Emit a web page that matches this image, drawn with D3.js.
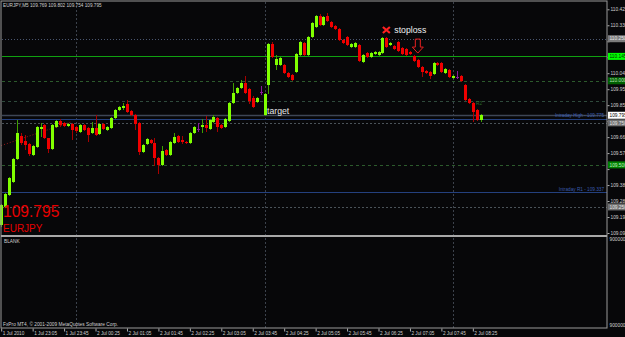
<!DOCTYPE html>
<html>
<head>
<meta charset="utf-8">
<script src="https://cdnjs.cloudflare.com/ajax/libs/d3/7.8.5/d3.min.js"></script>
<style>
  body { margin: 0; background: #070709; }
  svg { display: block; }
  text { font-family: "Liberation Sans", Arial, sans-serif; }
</style>
</head>
<body>
<svg id="chart" width="625" height="337"></svg>
<script>
// EURJPY M5 bars, 1 Jul 2010 22:25 -> 2 Jul 08:35
var opens = [
  109.143,109.250,109.321,109.398,109.535,109.672,109.642,109.624,109.559,109.606,
  109.713,109.737,109.660,109.594,109.725,109.761,109.749,109.731,109.743,109.725,
  109.695,109.737,109.719,109.690,109.719,109.684,109.743,109.707,109.719,109.779,
  109.826,109.838,109.862,109.820,109.797,109.749,109.577,109.624,109.648,109.630,
  109.541,109.499,109.589,109.559,109.630,109.672,109.648,109.636,109.630,109.690,
  109.713,109.725,109.737,109.713,109.755,109.779,109.737,109.725,109.761,109.868,
  109.927,109.957,109.987,109.951,109.898,109.874,109.933,109.797,109.975,110.219,
  110.094,110.094,110.094,110.046,110.034,110.052,110.153,110.225,110.153,110.260,
  110.320,110.385,110.332,110.385,110.350,110.326,110.308,110.243,110.260,110.201,
  110.201,110.213,110.112,110.165,110.141,110.159,110.153,110.165,110.254,110.213,
  110.207,110.231,110.195,110.189,110.171,110.147,110.124,110.082,110.058,110.052,
  110.040,110.106,110.106,110.046,110.064,110.016,110.022,110.028,109.975,109.892,
  109.868,109.826,109.769
];
var highs = [
  109.268,109.335,109.428,109.540,109.767,109.692,109.678,109.630,109.618,109.731,
  109.749,109.743,109.662,109.743,109.767,109.773,109.755,109.749,109.749,109.731,
  109.743,109.743,109.725,109.755,109.797,109.749,109.749,109.731,109.785,109.832,
  109.850,109.868,109.886,109.826,109.803,109.755,109.624,109.660,109.654,109.660,
  109.547,109.612,109.595,109.642,109.690,109.678,109.672,109.642,109.696,109.731,
  109.749,109.773,109.791,109.773,109.797,109.785,109.743,109.779,109.874,109.987,
  109.963,110.005,110.028,109.957,109.910,109.904,109.969,109.927,110.225,110.231,
  110.153,110.142,110.100,110.052,110.040,110.165,110.237,110.231,110.266,110.350,
  110.391,110.397,110.385,110.403,110.356,110.332,110.314,110.249,110.266,110.225,
  110.231,110.219,110.159,110.171,110.171,110.177,110.177,110.260,110.260,110.231,
  110.213,110.237,110.201,110.195,110.177,110.153,110.130,110.088,110.064,110.058,
  110.112,110.112,110.112,110.076,110.070,110.034,110.058,110.034,109.981,109.898,
  109.874,109.832,109.802
];
var lows = [
  109.130,109.245,109.316,109.392,109.530,109.620,109.589,109.555,109.553,109.600,
  109.666,109.654,109.571,109.588,109.719,109.725,109.725,109.725,109.648,109.690,
  109.690,109.700,109.636,109.684,109.672,109.678,109.707,109.700,109.713,109.773,
  109.820,109.826,109.808,109.791,109.707,109.559,109.571,109.618,109.624,109.493,
  109.446,109.493,109.553,109.553,109.624,109.630,109.624,109.624,109.624,109.684,
  109.695,109.690,109.695,109.707,109.749,109.695,109.713,109.719,109.755,109.862,
  109.921,109.951,109.921,109.862,109.838,109.868,109.916,109.791,109.921,110.135,
  110.064,110.088,110.040,110.016,109.999,110.046,110.147,110.147,110.147,110.254,
  110.314,110.326,110.326,110.349,110.314,110.302,110.237,110.219,110.207,110.195,
  110.195,110.112,110.106,110.135,110.135,110.153,110.147,110.159,110.195,110.207,
  110.183,110.171,110.153,110.147,110.153,110.112,110.076,110.022,110.040,110.010,
  110.034,110.088,110.046,110.040,110.016,110.010,110.010,109.993,109.880,109.862,
  109.755,109.761,109.754
];
var closes = [
  109.262,109.327,109.422,109.535,109.690,109.630,109.618,109.565,109.612,109.725,
  109.725,109.660,109.594,109.737,109.761,109.737,109.731,109.743,109.707,109.701,
  109.737,109.707,109.678,109.719,109.678,109.743,109.713,109.725,109.779,109.826,
  109.844,109.850,109.814,109.797,109.743,109.577,109.618,109.654,109.630,109.541,
  109.499,109.583,109.559,109.636,109.666,109.636,109.636,109.630,109.690,109.725,
  109.713,109.737,109.719,109.767,109.785,109.725,109.719,109.773,109.868,109.927,
  109.957,109.987,109.927,109.880,109.844,109.898,109.933,109.921,110.219,110.141,
  110.130,110.136,110.046,110.022,110.005,110.159,110.231,110.153,110.260,110.344,
  110.385,110.332,110.379,110.355,110.320,110.308,110.243,110.225,110.213,110.219,
  110.225,110.118,110.153,110.141,110.165,110.171,110.171,110.254,110.201,110.225,
  110.189,110.177,110.159,110.153,110.159,110.118,110.082,110.052,110.046,110.028,
  110.106,110.094,110.052,110.070,110.022,110.028,110.022,109.999,109.886,109.868,
  109.814,109.767,109.795
];

var timeLabels = ["1 Jul 2010","1 Jul 23:05","1 Jul 23:45","2 Jul 00:25","2 Jul 01:05","2 Jul 01:45",
  "2 Jul 02:25","2 Jul 03:05","2 Jul 03:45","2 Jul 04:25","2 Jul 05:05","2 Jul 05:45",
  "2 Jul 06:25","2 Jul 07:05","2 Jul 07:45","2 Jul 08:25"];
var priceTicks = [110.425,110.330,110.235,110.140,110.045,109.950,109.855,109.760,
  109.665,109.570,109.475,109.380,109.285,109.190,109.095];

// horizontal line objects
var levelPrices = [110.250, 110.145, 110.000, 109.880, 109.750, 109.500, 109.250];
var levelLabels = ["110.250","110.145","110.000","","109.750","109.500","109.250"];
var intradayNames = ["Intraday High", "Intraday R1"];
var intradayPrices = [109.775, 109.337];
var lastBid = 109.795;
var symbol = "EURJPY", period = "M5";

// styles for the level lines (same order as levelPrices)
var levelStroke = ['#4a5670','#10a010','#2c5a2c','#2f4a3c','#4a5258','#2c5a2c','#4a5258'];
var levelDash   = ['1,2',    null,     '3,3',    '3,3',    '2,2',    '3,3',    '2,2'];
var boxFill     = ['#7c7c7c','#00ff00','#006000',null,     '#707070','#008000','#707070'];
var boxText     = ['#e6e6e6','#003000','#b8e0b8',null,     '#e6e6e6','#c0f0c0','#e6e6e6'];

var W = 625, H = 337, axisX = 607, mainBottom = 235, subBottom = 328;
var startMin = 22 * 60 + 25;   // first bar 22:25

var svg = d3.select('#chart');
svg.append('rect').attr('width', W).attr('height', H).attr('fill', '#070709');

var x = d3.scaleLinear().domain([0, 122]).range([1.2, 480.7]);
var y = d3.scaleLinear().domain([109.095, 110.425]).range([233, 9.3]);

var bars = d3.range(opens.length).map(function (i) {
  return { i: i, o: opens[i], h: highs[i], l: lows[i], c: closes[i] };
});

// vertical grid every 4 hours
var gridIdx = bars.filter(function (d) { return (startMin + d.i * 5) % 240 === 0; });
svg.append('g').selectAll('line').data(gridIdx).join('line')
  .attr('x1', function (d) { return Math.round(x(d.i)) + 0.5; })
  .attr('x2', function (d) { return Math.round(x(d.i)) + 0.5; })
  .attr('y1', 2).attr('y2', subBottom)
  .attr('stroke', '#3c424c').attr('stroke-dasharray', '2,2');

// level lines
svg.append('g').selectAll('line').data(levelPrices).join('line')
  .attr('x1', 2).attr('x2', axisX)
  .attr('y1', function (d) { return Math.round(y(d)) + 0.5; })
  .attr('y2', function (d) { return Math.round(y(d)) + 0.5; })
  .attr('stroke', function (d, i) { return levelStroke[i]; })
  .attr('stroke-dasharray', function (d, i) { return levelDash[i]; });

// bid line + intraday levels
svg.append('line').attr('x1', 2).attr('x2', axisX)
  .attr('y1', Math.round(y(lastBid)) + 0.5).attr('y2', Math.round(y(lastBid)) + 0.5)
  .attr('stroke', '#3e4656').attr('stroke-width', 1.5);
svg.append('g').selectAll('line').data(intradayPrices).join('line')
  .attr('x1', 2).attr('x2', axisX)
  .attr('y1', function (d) { return Math.round(y(d)) + 0.5; })
  .attr('y2', function (d) { return Math.round(y(d)) + 0.5; })
  .attr('stroke', '#24407e');
svg.append('g').selectAll('text').data(intradayPrices).join('text')
  .attr('x', 604).attr('y', function (d) { return y(d) - 1.5; })
  .attr('text-anchor', 'end').attr('font-size', 4.7).attr('fill', '#3a5cae')
  .text(function (d, i) { return intradayNames[i] + ' - ' + d3.format('.3f')(d); });

// trendline (dotted dark red)
svg.append('line')
  .attr('x1', x(0)).attr('y1', y(109.615))
  .attr('x2', x(18)).attr('y2', y(109.757))
  .attr('stroke', '#9a1818').attr('stroke-dasharray', '1,2');

// candles
var cg = svg.append('g').attr('shape-rendering', 'crispEdges');
cg.selectAll('.wick').data(bars).join('line').attr('class', 'wick')
  .attr('x1', function (d) { return Math.round(x(d.i)) + 0.5; })
  .attr('x2', function (d) { return Math.round(x(d.i)) + 0.5; })
  .attr('y1', function (d) { return y(d.h); })
  .attr('y2', function (d) { return y(d.l); })
  .attr('stroke', function (d) {
    if (d.o === d.c) return '#8a1a9a';
    return d.c > d.o ? '#3e9e00' : '#a80000';
  });
cg.selectAll('.body').data(bars).join('rect').attr('class', 'body')
  .attr('x', function (d) { return Math.round(x(d.i)) - 1; })
  .attr('width', 3)
  .attr('y', function (d) { return y(Math.max(d.o, d.c)); })
  .attr('height', function (d) { return Math.max(1, Math.abs(y(d.o) - y(d.c))); })
  .attr('fill', function (d) {
    if (d.o === d.c) return '#8a1a9a';
    return d.c > d.o ? '#80ff00' : '#f00000';
  });

// annotations
var sx = x(98), sy = y(110.302);
svg.append('path')
  .attr('d', 'M' + (sx - 3.5) + ',' + (sy - 3) + 'L' + (sx + 3.5) + ',' + (sy + 3) +
    'M' + (sx + 3.5) + ',' + (sy - 3) + 'L' + (sx - 3.5) + ',' + (sy + 3))
  .attr('stroke', '#ff2020').attr('stroke-width', 2.2);
svg.append('text').attr('x', sx + 8).attr('y', sy + 3).attr('font-size', 8.7)
  .attr('fill', '#f0f0f0').text('stoploss');

var ax = x(106), ay = y(110.248);
svg.append('path')
  .attr('d', 'M' + (ax - 2.5) + ',' + ay + 'H' + (ax + 2.5) + 'V' + (ay + 8) + 'H' + (ax + 5.5) +
    'L' + ax + ',' + (ay + 14) + 'L' + (ax - 5.5) + ',' + (ay + 8) + 'H' + (ax - 2.5) + 'Z')
  .attr('fill', 'none').attr('stroke', '#e82020').attr('stroke-width', 1);

svg.append('text').attr('x', x(67) + 2.5).attr('y', y(109.80) - 0.5).attr('font-size', 8.7)
  .attr('fill', '#e8e8e8').text('target');
svg.append('text').attr('x', 476).attr('y', y(109.880) + 4).attr('font-size', 4.7)
  .attr('fill', '#2a6a2a').text('R2');

svg.append('text').attr('x', 3).attr('y', 217).attr('font-size', 15.6)
  .attr('fill', '#e80000').text(d3.format('.3f')(lastBid));
svg.append('text').attr('x', 3).attr('y', 232).attr('font-size', 10)
  .attr('fill', '#e80000').text(symbol);

// header
var last = bars[bars.length - 1];
svg.append('text').attr('x', 3).attr('y', 7).attr('font-size', 4.7).attr('fill', '#d0d0d0')
  .text(symbol + ',' + period + ' ' + [last.o, last.h, last.l, last.c].map(d3.format('.3f')).join(' '));

// window frames
svg.append('rect').attr('x', 1).attr('y', 1).attr('width', axisX - 1).attr('height', subBottom - 1)
  .attr('fill', 'none').attr('stroke', '#9a9a9a').attr('stroke-width', 1);
svg.append('rect').attr('x', 1).attr('y', mainBottom).attr('width', axisX - 1).attr('height', 2)
  .attr('fill', '#a8a8a8');

svg.append('text').attr('x', 4).attr('y', 243).attr('font-size', 4.8).attr('fill', '#d0d0d0').text('BLANK');
svg.append('text').attr('x', 3).attr('y', 326).attr('font-size', 4.8).attr('fill', '#d0d0d0')
  .text('FxPro MT4, \u00a9 2001-2009 MetaQuotes Software Corp.');

// price axis (tick labels hidden where a line label box sits on top of them)
var boxPrices = levelPrices.filter(function (p, i) { return boxFill[i]; }).concat([lastBid]);
var shownTicks = priceTicks.filter(function (t) {
  return boxPrices.every(function (p) { return Math.abs(y(t) - y(p)) > 5; });
});
var yAxis = d3.axisRight(y).tickValues(priceTicks).tickSize(2).tickPadding(1)
  .tickFormat(function (t) { return shownTicks.indexOf(t) >= 0 ? d3.format('.3f')(t) : ''; });
var yg = svg.append('g').attr('transform', 'translate(' + (axisX + 0.5) + ',0)').call(yAxis);
yg.select('.domain').remove();
yg.selectAll('line').attr('stroke', '#b0b0b0');
yg.selectAll('text').attr('font-size', 4.8).attr('fill', '#d0d0d0').attr('font-family', '"Liberation Sans", Arial');

// level label boxes on the axis
var boxes = levelPrices.map(function (p, i) { return { p: p, i: i }; })
  .filter(function (d) { return boxFill[d.i]; });
var bg = svg.append('g');
bg.selectAll('rect').data(boxes).join('rect')
  .attr('x', axisX + 1).attr('y', function (d) { return y(d.p) - 3.5; })
  .attr('width', 20).attr('height', 7).attr('fill', function (d) { return boxFill[d.i]; });
bg.selectAll('text').data(boxes).join('text')
  .attr('x', axisX + 2.5).attr('y', function (d) { return y(d.p) + 1.7; })
  .attr('font-size', 4.8).attr('fill', function (d) { return boxText[d.i]; })
  .text(function (d) { return levelLabels[d.i]; });
svg.append('rect').attr('x', axisX + 1).attr('y', y(lastBid) - 3.5).attr('width', 20).attr('height', 7)
  .attr('fill', '#ffffff');
svg.append('text').attr('x', axisX + 2.5).attr('y', y(lastBid) + 1.7).attr('font-size', 4.8)
  .attr('fill', '#000').text(d3.format('.3f')(lastBid));

// indicator window scale labels
svg.append('text').attr('x', axisX + 2.5).attr('y', 241).attr('font-size', 4.8).attr('fill', '#d0d0d0').text('900000');
svg.append('text').attr('x', axisX + 2.5).attr('y', 327).attr('font-size', 4.8).attr('fill', '#d0d0d0').text('900000');

// time axis
var tickIdx = timeLabels.map(function (t, k) { return k * 8; });
var xAxis = d3.axisBottom(x).tickValues(tickIdx).tickSize(3).tickPadding(0)
  .tickFormat(function (d, k) { return timeLabels[k]; });
var xg = svg.append('g').attr('transform', 'translate(0,' + (subBottom + 0.5) + ')').call(xAxis);
xg.select('.domain').remove();
xg.selectAll('line').attr('stroke', '#b0b0b0');
xg.selectAll('text').attr('font-size', 4.7).attr('fill', '#d0d0d0').attr('text-anchor', 'start')
  .attr('dx', 1).attr('dy', 0).attr('y', 6.5).attr('font-family', '"Liberation Sans", Arial');
</script>
</body>
</html>
